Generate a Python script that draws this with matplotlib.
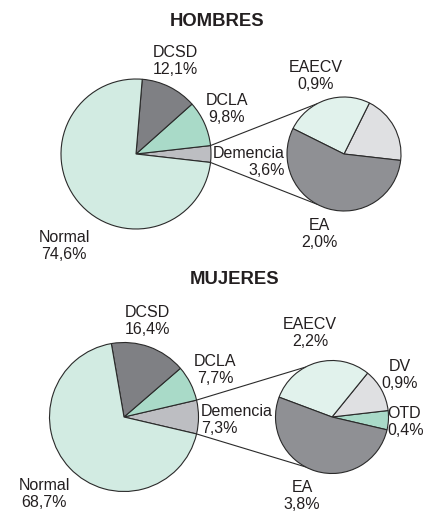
import numpy as np
import matplotlib
matplotlib.use('Agg')
import matplotlib.pyplot as plt

plt.rcParams['font.family'] = ['Liberation Sans', 'DejaVu Sans']

# data
main_labels = ['Demencia', 'DCLA', 'DCSD', 'Normal']
hombres_main = [3.6, 9.8, 12.1, 74.6]
mujeres_main = [7.3, 7.7, 16.4, 68.7]

hombres_sub_labels = ['', 'EAECV', 'EA']
hombres_sub = [0.7, 0.9, 2.0]
mujeres_sub_labels = ['OTD', 'DV', 'EAECV', 'EA']
mujeres_sub = [0.4, 0.9, 2.2, 3.8]

main_colors = ['#bdbec2', '#a9dac8', '#7f8084', '#d2ebe2']
hombres_sub_colors = ['#dfe0e2', '#e1f2ec', '#8f9094']
mujeres_sub_colors = ['#a9dac8', '#dfe0e2', '#e1f2ec', '#8f9094']

W, H = 424, 513
TXT = '#231f20'
FS = 11.5


def pct(v):
    return ('%.1f' % v).replace('.', ',') + '%'


def Y(y):
    return H - y


fig = plt.figure(figsize=(W / 100, H / 100), dpi=100)
ax = fig.add_axes([0, 0, 1, 1])

wp = dict(edgecolor='#2a2a2a', linewidth=0.8)


def panel(title, title_xy, main, sub, sub_colors, c_main, r_main, c_sub, r_sub, labels):
    start = -main[0] * 3.6 / 2
    wm, _ = ax.pie(main, colors=main_colors, startangle=start, counterclock=True,
                   center=(c_main[0], Y(c_main[1])), radius=r_main, wedgeprops=wp)
    ax.pie(sub, colors=sub_colors, startangle=start, counterclock=True,
           center=(c_sub[0], Y(c_sub[1])), radius=r_sub, wedgeprops=wp)
    # connector lines from the Demencia wedge to the second pie
    dem = wm[0]
    for t_main, t_sub in [(dem.theta2, 118), (dem.theta1, -118)]:
        x0 = c_main[0] + r_main * np.cos(np.radians(t_main))
        y0 = Y(c_main[1]) + r_main * np.sin(np.radians(t_main))
        x1 = c_sub[0] + r_sub * np.cos(np.radians(t_sub))
        y1 = Y(c_sub[1]) + r_sub * np.sin(np.radians(t_sub))
        ax.plot([x0, x1], [y0, y1], color='#2a2a2a', lw=0.8, zorder=0)
    ax.text(title_xy[0], Y(title_xy[1]), title, ha='center', va='center',
            fontsize=13.3, fontweight='bold', color=TXT)
    for name, val, x, y, ha in labels:
        ax.text(x, Y(y), name + '\n' + pct(val), ha=ha, va='center',
                multialignment=ha, fontsize=FS, color=TXT, linespacing=1.2)


panel('HOMBRES', (217, 22), hombres_main, hombres_sub, hombres_sub_colors,
      (136, 154), 75, (344, 154), 57,
      [(main_labels[2], hombres_main[2], 175, 61, 'center'),
       (main_labels[1], hombres_main[1], 227, 109, 'center'),
       (main_labels[0], hombres_main[0], 285, 162, 'right'),
       (main_labels[3], hombres_main[3], 64, 246, 'center'),
       (hombres_sub_labels[1], hombres_sub[1], 316, 76, 'center'),
       (hombres_sub_labels[2], hombres_sub[2], 319, 234, 'center')])

panel('MUJERES', (235, 280), mujeres_main, mujeres_sub, mujeres_sub_colors,
      (124, 417), 74.5, (332, 417), 56.5,
      [(main_labels[2], mujeres_main[2], 147, 321, 'center'),
       (main_labels[1], mujeres_main[1], 215, 370, 'center'),
       (main_labels[0], mujeres_main[0], 201, 420, 'left'),
       (main_labels[3], mujeres_main[3], 44, 494, 'center'),
       (mujeres_sub_labels[2], mujeres_sub[2], 310, 333, 'center'),
       (mujeres_sub_labels[1], mujeres_sub[1], 400, 375, 'center'),
       (mujeres_sub_labels[0], mujeres_sub[0], 387, 422, 'left'),
       (mujeres_sub_labels[3], mujeres_sub[3], 302, 496, 'center')])

ax.set_xlim(0, W)
ax.set_ylim(0, H)
ax.set_aspect('auto')
ax.axis('off')

fig.savefig('out.png', dpi=100, facecolor='white')
